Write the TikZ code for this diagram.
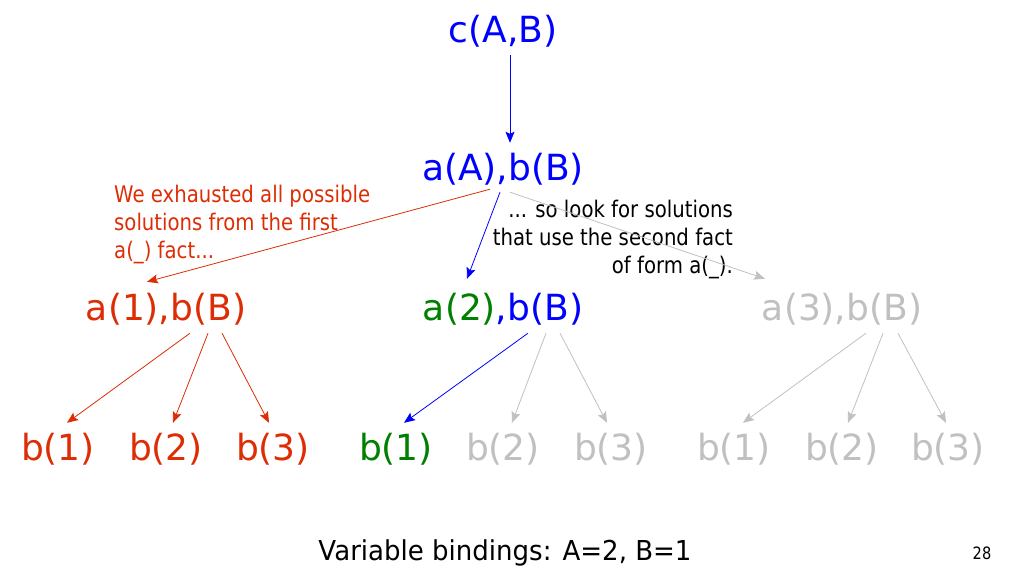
\documentclass[tikz,border=0pt]{standalone}
\usepackage{fontspec}
\setmainfont{DejaVu Sans}
\newfontfamily\tfont[FakeStretch=0.86]{DejaVu Sans}
\newfontfamily\vfont[FakeStretch=0.95]{DejaVu Sans}
\usetikzlibrary{arrows.meta}
\definecolor{myred}{RGB}{221,45,5}
\definecolor{mygreen}{RGB}{0,128,0}
\definecolor{mygray}{RGB}{192,192,192}
\definecolor{myblue}{RGB}{0,0,255}
\tikzset{
  big/.style={inner sep=0pt, anchor=base, text height=27pt, text depth=5pt,
    font=\fontsize{36}{43}\selectfont},
  arr/.style={line width=0.8pt, -{Stealth[length=11pt,width=9pt,inset=2pt]}},
  redarr/.style={arr, myred},
  bluearr/.style={arr, myblue},
  grayarr/.style={arr, mygray},
  note/.style={inner sep=0pt, font=\tfont\fontsize{22.9}{28}\selectfont}
}
\begin{document}
\begin{tikzpicture}[x=1pt,y=-1pt]
\useasboundingbox (0,0) rectangle (1009,570);
% nodes
\node[big, myblue] (c) at (503,42) {c(A,B)};
\node[big, myblue] (top) at (503,180) {a(A),b(B)};
\node[big, myred] (a1) at (166,320) {a(1),b(B)};
\node[big] (a2) at (503,320) {\textcolor{mygreen}{a(2)}\textcolor{myblue}{,b(B)}};
\node[big, mygray] (a3) at (842,320) {a(3),b(B)};
\node[big, myred] (b11) at (58,460) {b(1)};
\node[big, myred] (b12) at (166,460) {b(2)};
\node[big, myred] (b13) at (273,460) {b(3)};
\node[big, mygreen] (b21) at (396,460) {b(1)};
\node[big, mygray] (b22) at (503,460) {b(2)};
\node[big, mygray] (b23) at (611,460) {b(3)};
\node[big, mygray] (b31) at (734,460) {b(1)};
\node[big, mygray] (b32) at (842,460) {b(2)};
\node[big, mygray] (b33) at (948,460) {b(3)};
% notes (base anchor = baseline of the last line)
\node[note, myred, align=left, anchor=base west] (n1) at (114,258)
  {We exhausted all possible\\solutions from the first\\a(\_) fact...};
\node[note, black, align=right, anchor=base east] (n2) at (733,273)
  {... so look for solutions\\that use the second fact\\of form a(\_).};
\node[inner sep=0pt, anchor=base, font=\vfont\fontsize{27.4}{33}\selectfont] (vb) at (505,560)
  {Variable bindings: A=2, B=1};
\node[inner sep=0pt, anchor=base, font=\tfont\fontsize{17}{20}\selectfont] (pg) at (982,559) {28};
% connectors
\draw[bluearr] ([xshift=7pt,yshift=-8pt]c.south) -- ([xshift=7pt,yshift=10pt]top.north);
\draw[redarr] ([xshift=-13pt,yshift=-4pt]top.south) -- ([xshift=-19pt,yshift=11pt]a1.north);
\draw[bluearr] ([xshift=-3pt,yshift=-7pt]top.south) -- ([xshift=-36pt,yshift=14pt]a2.north);
\draw[grayarr] ([xshift=7pt,yshift=-7pt]top.south) -- ([xshift=-77pt,yshift=14pt]a3.north);
\draw[redarr] ([xshift=24pt,yshift=-8pt]a1.south) -- ([xshift=9pt,yshift=10pt]b11.north);
\draw[redarr] ([xshift=42pt,yshift=-8pt]a1.south) -- ([xshift=7pt,yshift=10pt]b12.north);
\draw[redarr] ([xshift=56pt,yshift=-8pt]a1.south) -- ([xshift=-4pt,yshift=10pt]b13.north);
\draw[bluearr] ([xshift=25pt,yshift=-8pt]a2.south) -- ([xshift=8pt,yshift=10pt]b21.north);
\draw[grayarr] ([xshift=43pt,yshift=-8pt]a2.south) -- ([xshift=9pt,yshift=10pt]b22.north);
\draw[grayarr] ([xshift=57pt,yshift=-8pt]a2.south) -- ([xshift=-4pt,yshift=10pt]b23.north);
\draw[grayarr] ([xshift=24pt,yshift=-8pt]a3.south) -- ([xshift=9pt,yshift=10pt]b31.north);
\draw[grayarr] ([xshift=41pt,yshift=-8pt]a3.south) -- ([xshift=6pt,yshift=10pt]b32.north);
\draw[grayarr] ([xshift=56pt,yshift=-8pt]a3.south) -- ([xshift=-2pt,yshift=10pt]b33.north);
\end{tikzpicture}
\end{document}
